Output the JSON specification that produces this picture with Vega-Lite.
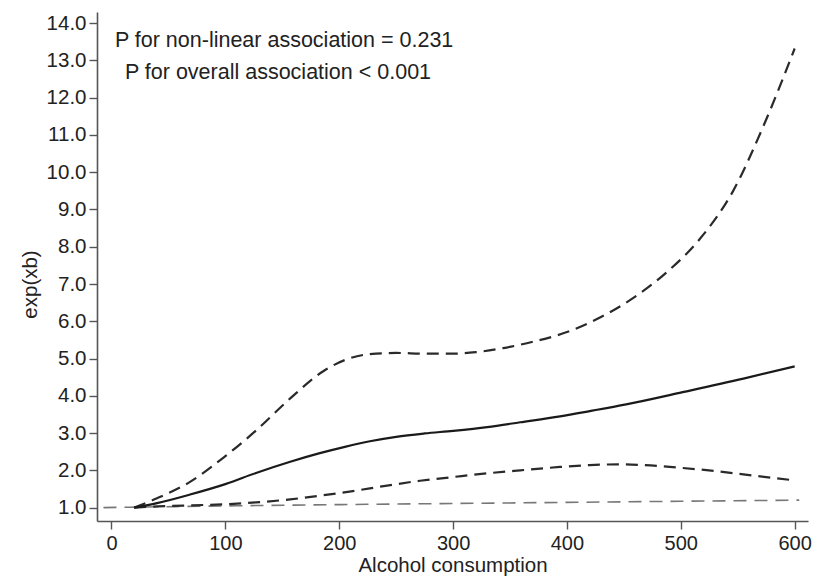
{
  "$schema": "https://vega.github.io/schema/vega-lite/v6.json",
  "autosize": "none",
  "width": 711,
  "height": 509,
  "padding": {"left": 97, "top": 12, "right": 6, "bottom": 57},
  "background": "white",
  "config": {
    "view": {"stroke": null},
    "font": "Liberation Sans",
    "axis": {"grid": false, "domainColor": "#555", "domainWidth": 1.6, "tickColor": "#555", "tickWidth": 1.4, "labelColor": "#222", "titleColor": "#222", "labelFont": "Liberation Sans", "titleFont": "Liberation Sans", "titleFontWeight": "normal", "labelFontSize": 20.5, "titleFontSize": 20.5}
  },
  "datasets": {
    "curves": [
      {"s": "ref", "x": -7, "y": 1.0},
      {"s": "ref", "x": 100, "y": 1.045},
      {"s": "ref", "x": 200, "y": 1.08},
      {"s": "ref", "x": 300, "y": 1.11},
      {"s": "ref", "x": 400, "y": 1.14},
      {"s": "ref", "x": 500, "y": 1.17},
      {"s": "ref", "x": 604, "y": 1.2},

      {"s": "est", "x": 20, "y": 1.0},
      {"s": "est", "x": 40, "y": 1.12},
      {"s": "est", "x": 69, "y": 1.35},
      {"s": "est", "x": 100, "y": 1.63},
      {"s": "est", "x": 127, "y": 1.93},
      {"s": "est", "x": 157, "y": 2.23},
      {"s": "est", "x": 183, "y": 2.46},
      {"s": "est", "x": 205, "y": 2.63},
      {"s": "est", "x": 227, "y": 2.78},
      {"s": "est", "x": 250, "y": 2.9},
      {"s": "est", "x": 275, "y": 2.99},
      {"s": "est", "x": 300, "y": 3.06},
      {"s": "est", "x": 330, "y": 3.16},
      {"s": "est", "x": 359, "y": 3.29},
      {"s": "est", "x": 394, "y": 3.45},
      {"s": "est", "x": 420, "y": 3.59},
      {"s": "est", "x": 452, "y": 3.77},
      {"s": "est", "x": 499, "y": 4.08},
      {"s": "est", "x": 555, "y": 4.46},
      {"s": "est", "x": 600, "y": 4.79},

      {"s": "lo", "x": 20, "y": 1.0},
      {"s": "lo", "x": 40, "y": 1.03},
      {"s": "lo", "x": 69, "y": 1.06},
      {"s": "lo", "x": 100, "y": 1.09},
      {"s": "lo", "x": 127, "y": 1.14},
      {"s": "lo", "x": 157, "y": 1.22},
      {"s": "lo", "x": 183, "y": 1.32},
      {"s": "lo", "x": 209, "y": 1.43},
      {"s": "lo", "x": 242, "y": 1.59},
      {"s": "lo", "x": 271, "y": 1.72},
      {"s": "lo", "x": 300, "y": 1.82},
      {"s": "lo", "x": 330, "y": 1.92},
      {"s": "lo", "x": 359, "y": 2.0},
      {"s": "lo", "x": 394, "y": 2.09},
      {"s": "lo", "x": 420, "y": 2.14},
      {"s": "lo", "x": 445, "y": 2.16},
      {"s": "lo", "x": 467, "y": 2.14},
      {"s": "lo", "x": 499, "y": 2.07},
      {"s": "lo", "x": 530, "y": 1.98},
      {"s": "lo", "x": 555, "y": 1.89},
      {"s": "lo", "x": 600, "y": 1.73},

      {"s": "hi", "x": 20, "y": 1.0},
      {"s": "hi", "x": 40, "y": 1.25},
      {"s": "hi", "x": 69, "y": 1.69},
      {"s": "hi", "x": 100, "y": 2.38},
      {"s": "hi", "x": 127, "y": 3.07},
      {"s": "hi", "x": 157, "y": 3.93},
      {"s": "hi", "x": 186, "y": 4.66},
      {"s": "hi", "x": 205, "y": 4.96},
      {"s": "hi", "x": 227, "y": 5.12},
      {"s": "hi", "x": 250, "y": 5.15},
      {"s": "hi", "x": 275, "y": 5.13},
      {"s": "hi", "x": 300, "y": 5.13},
      {"s": "hi", "x": 320, "y": 5.17},
      {"s": "hi", "x": 344, "y": 5.28},
      {"s": "hi", "x": 370, "y": 5.45},
      {"s": "hi", "x": 400, "y": 5.71},
      {"s": "hi", "x": 429, "y": 6.1},
      {"s": "hi", "x": 458, "y": 6.62},
      {"s": "hi", "x": 487, "y": 7.3},
      {"s": "hi", "x": 517, "y": 8.22},
      {"s": "hi", "x": 546, "y": 9.5},
      {"s": "hi", "x": 572, "y": 11.2},
      {"s": "hi", "x": 600, "y": 13.32}
    ],
    "notes": [
      {"x": 3, "y": 13.36, "label": "P for non-linear association = 0.231"},
      {"x": 11.8, "y": 12.5, "label": "P for overall association < 0.001"}
    ]
  },
  "encoding": {
    "x": {"field": "x", "type": "quantitative",
      "scale": {"domain": [-12.7, 611.7], "nice": false, "zero": false},
      "axis": {"values": [0, 100, 200, 300, 400, 500, 600], "title": "Alcohol consumption", "tickSize": 8, "labelFontSize": 20, "labelPadding": 4, "titlePadding": 2, "labelFlush": false}},
    "y": {"field": "y", "type": "quantitative",
      "scale": {"domain": [0.64, 14.3], "nice": false, "zero": false},
      "axis": {"values": [1,2,3,4,5,6,7,8,9,10,11,12,13,14], "format": ".1f", "title": "exp(xb)", "tickSize": 8, "labelPadding": 3, "titlePadding": 6, "titleY": 272, "labelFlush": false}}
  },
  "layer": [
    {"data": {"name": "curves"}, "transform": [{"filter": "datum.s === 'ref'"}],
     "mark": {"type": "line", "color": "#777", "strokeWidth": 1.6, "strokeDash": [13, 8], "interpolate": "monotone"}},
    {"data": {"name": "curves"}, "transform": [{"filter": "datum.s === 'lo'"}],
     "mark": {"type": "line", "color": "#2a2a2a", "strokeWidth": 2.2, "strokeDash": [12, 7], "interpolate": "monotone"}},
    {"data": {"name": "curves"}, "transform": [{"filter": "datum.s === 'hi'"}],
     "mark": {"type": "line", "color": "#2a2a2a", "strokeWidth": 2.2, "strokeDash": [12, 7], "interpolate": "monotone"}},
    {"data": {"name": "curves"}, "transform": [{"filter": "datum.s === 'est'"}],
     "mark": {"type": "line", "color": "#1a1a1a", "strokeWidth": 2.2, "interpolate": "monotone"}},
    {"data": {"name": "notes"},
     "mark": {"type": "text", "align": "left", "baseline": "alphabetic", "fontSize": 21.5, "font": "Liberation Sans", "color": "#222"},
     "encoding": {"text": {"field": "label"}}}
  ]
}
